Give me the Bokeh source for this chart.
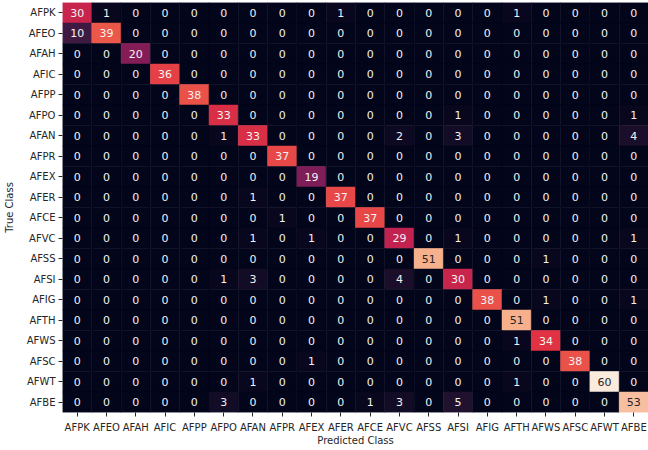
import numpy as np
from bokeh.plotting import figure
from bokeh.models import ColumnDataSource, LinearColorMapper, FactorRange
from bokeh.transform import transform
from bokeh.embed import file_html
from bokeh.resources import INLINE
from bokeh.core.properties import value

classes = ["AFPK", "AFEO", "AFAH", "AFIC", "AFPP", "AFPO", "AFAN", "AFPR", "AFEX", "AFER",
           "AFCE", "AFVC", "AFSS", "AFSI", "AFIG", "AFTH", "AFWS", "AFSC", "AFWT", "AFBE"]

counts = [
    [30, 1, 0, 0, 0, 0, 0, 0, 0, 1, 0, 0, 0, 0, 0, 1, 0, 0, 0, 0],
    [10, 39, 0, 0, 0, 0, 0, 0, 0, 0, 0, 0, 0, 0, 0, 0, 0, 0, 0, 0],
    [0, 0, 20, 0, 0, 0, 0, 0, 0, 0, 0, 0, 0, 0, 0, 0, 0, 0, 0, 0],
    [0, 0, 0, 36, 0, 0, 0, 0, 0, 0, 0, 0, 0, 0, 0, 0, 0, 0, 0, 0],
    [0, 0, 0, 0, 38, 0, 0, 0, 0, 0, 0, 0, 0, 0, 0, 0, 0, 0, 0, 0],
    [0, 0, 0, 0, 0, 33, 0, 0, 0, 0, 0, 0, 0, 1, 0, 0, 0, 0, 0, 1],
    [0, 0, 0, 0, 0, 1, 33, 0, 0, 0, 0, 2, 0, 3, 0, 0, 0, 0, 0, 4],
    [0, 0, 0, 0, 0, 0, 0, 37, 0, 0, 0, 0, 0, 0, 0, 0, 0, 0, 0, 0],
    [0, 0, 0, 0, 0, 0, 0, 0, 19, 0, 0, 0, 0, 0, 0, 0, 0, 0, 0, 0],
    [0, 0, 0, 0, 0, 0, 1, 0, 0, 37, 0, 0, 0, 0, 0, 0, 0, 0, 0, 0],
    [0, 0, 0, 0, 0, 0, 0, 1, 0, 0, 37, 0, 0, 0, 0, 0, 0, 0, 0, 0],
    [0, 0, 0, 0, 0, 0, 1, 0, 1, 0, 0, 29, 0, 1, 0, 0, 0, 0, 0, 1],
    [0, 0, 0, 0, 0, 0, 0, 0, 0, 0, 0, 0, 51, 0, 0, 0, 1, 0, 0, 0],
    [0, 0, 0, 0, 0, 1, 3, 0, 0, 0, 0, 4, 0, 30, 0, 0, 0, 0, 0, 0],
    [0, 0, 0, 0, 0, 0, 0, 0, 0, 0, 0, 0, 0, 0, 38, 0, 1, 0, 0, 1],
    [0, 0, 0, 0, 0, 0, 0, 0, 0, 0, 0, 0, 0, 0, 0, 51, 0, 0, 0, 0],
    [0, 0, 0, 0, 0, 0, 0, 0, 0, 0, 0, 0, 0, 0, 0, 1, 34, 0, 0, 0],
    [0, 0, 0, 0, 0, 0, 0, 0, 1, 0, 0, 0, 0, 0, 0, 0, 0, 38, 0, 0],
    [0, 0, 0, 0, 0, 0, 1, 0, 0, 0, 0, 0, 0, 0, 0, 1, 0, 0, 60, 0],
    [0, 0, 0, 0, 0, 3, 0, 0, 0, 0, 1, 3, 0, 5, 0, 0, 0, 0, 0, 53],
]

# "rocket"-like colormap anchors
anchor_pos = [0, 1 / 7, 2 / 7, 3 / 7, 4 / 7, 5 / 7, 6 / 7, 1]
anchor_hex = ["#03051a", "#35193e", "#701f57", "#ad1759", "#e13342", "#f37651", "#f6b48f", "#faebdd"]

rgb = np.array([[int(h[i:i + 2], 16) for i in (1, 3, 5)] for h in anchor_hex], float)
tt = np.linspace(0, 1, 256)
pal_rgb = np.stack([np.interp(tt, anchor_pos, rgb[:, k]) for k in range(3)], axis=1)
palette = ["#%02x%02x%02x" % tuple(int(round(c)) for c in row) for row in pal_rgb]

vmin, vmax = 0, 60
mapper = LinearColorMapper(palette=palette, low=vmin, high=vmax)


def lum(c):
    c = np.asarray(c) / 255.0
    c = np.where(c <= 0.03928, c / 12.92, ((c + 0.055) / 1.055) ** 2.4)
    return 0.2126 * c[0] + 0.7152 * c[1] + 0.0722 * c[2]


xs, ys, vs, txts, tcols = [], [], [], [], []
for i, t in enumerate(classes):
    for j, pr in enumerate(classes):
        v = counts[i][j]
        xs.append(pr)
        ys.append(t)
        vs.append(v)
        txts.append(str(v))
        idx = int(round((v - vmin) / (vmax - vmin) * 255))
        tcols.append("#262626" if lum(pal_rgb[idx]) > 0.408 else "#f2f2f2")

src = ColumnDataSource(dict(x=xs, y=ys, v=vs, txt=txts, tcol=tcols))

p = figure(width=648, height=450, output_backend="svg", toolbar_location=None,
           x_range=FactorRange(*classes), y_range=FactorRange(*classes[::-1]),
           min_border_left=60, min_border_right=0, min_border_top=2, min_border_bottom=38)

p.rect(x="x", y="y", width=1, height=1, source=src,
       fill_color=transform("v", mapper), line_color=transform("v", mapper), line_width=0.5)
p.text(x="x", y="y", text="txt", text_color="tcol", source=src,
       text_align="center", text_baseline="middle",
       text_font=value("DejaVu Sans"), text_font_size=value("11px"))

p.outline_line_color = None
p.grid.grid_line_color = None
for ax in (p.xaxis, p.yaxis):
    ax.axis_line_color = None
    ax.major_tick_line_color = "#262626"
    ax.major_tick_out = 4
    ax.major_tick_in = 0
    ax.minor_tick_line_color = None
    ax.major_label_text_font = "DejaVu Sans"
    ax.major_label_text_font_size = "10px"
    ax.major_label_text_color = "#262626"
    ax.axis_label_text_font = "DejaVu Sans"
    ax.axis_label_text_font_size = "10px"
    ax.axis_label_text_font_style = "normal"
    ax.axis_label_text_color = "#262626"

p.xaxis.major_label_standoff = 5
p.xaxis.axis_label_standoff = -1
p.yaxis.major_label_standoff = 3
p.yaxis.axis_label_standoff = 9

p.xaxis.axis_label = "Predicted Class"
p.yaxis.axis_label = "True Class"

open("out.html", "w").write(file_html(p, INLINE))
